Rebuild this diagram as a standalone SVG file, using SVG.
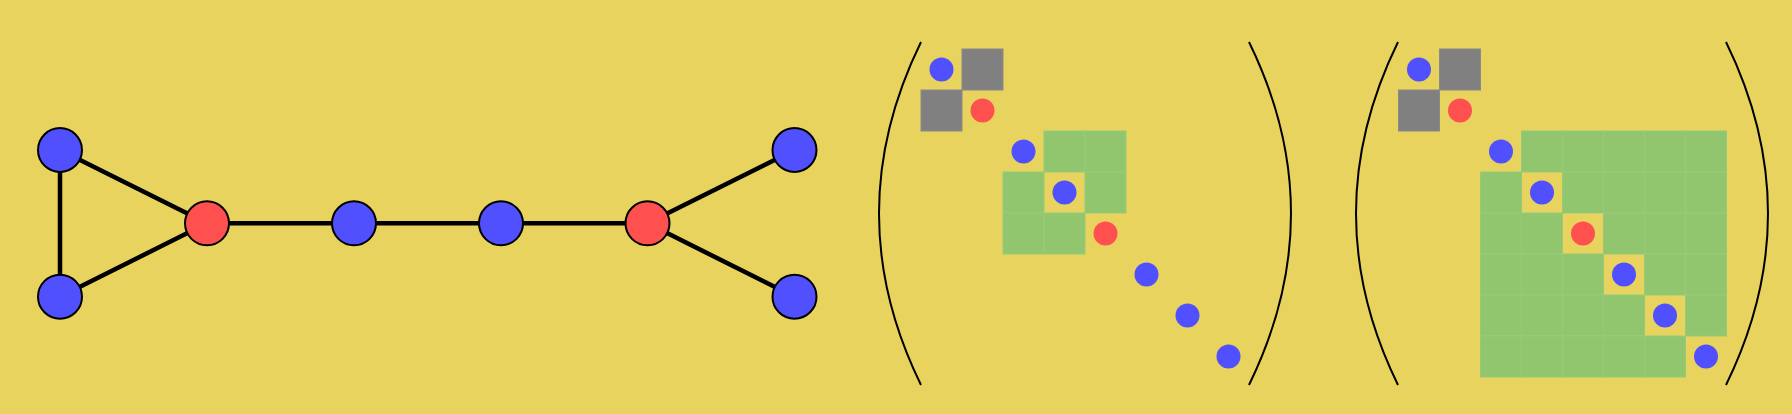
<svg xmlns="http://www.w3.org/2000/svg" width="1792" height="414" viewBox="0 0 1792 414">
<style>
.edge{stroke:#000;stroke-width:4.5;fill:none}
.node{stroke:#000;stroke-width:2}
.b{fill:#5050FF}
.r{fill:#FF5050}
.gray{fill:#808080;stroke:#8a8a8a;stroke-width:1}
.green{fill:#91C66F;stroke:#97cb78;stroke-width:1}
.paren{stroke:#000;stroke-width:2;fill:none}
</style>
<rect x="0" y="0" width="1792" height="414" fill="#E7D35E"/>
<g id="connectors">
<line class="edge" x1="60" y1="150" x2="60" y2="296.7"/>
<line class="edge" x1="60" y1="150" x2="207" y2="223.3"/>
<line class="edge" x1="60" y1="296.7" x2="207" y2="223.3"/>
<line class="edge" x1="207" y1="223.3" x2="647.5" y2="223.3"/>
<line class="edge" x1="647.5" y1="223.3" x2="794.5" y2="150"/>
<line class="edge" x1="647.5" y1="223.3" x2="794.5" y2="296.7"/>
</g>
<g id="n1"><circle class="node b" cx="60" cy="150" r="22"/></g>
<g id="n2"><circle class="node b" cx="60" cy="296.7" r="22"/></g>
<g id="n3"><circle class="node r" cx="207" cy="223.3" r="22"/></g>
<g id="n4"><circle class="node b" cx="354" cy="223.3" r="22"/></g>
<g id="n5"><circle class="node b" cx="501" cy="223.3" r="22"/></g>
<g id="n6"><circle class="node r" cx="647.5" cy="223.3" r="22"/></g>
<g id="n7"><circle class="node b" cx="794.5" cy="150" r="22"/></g>
<g id="n8"><circle class="node b" cx="794.5" cy="296.7" r="22"/></g>

<g id="matrix1">
<path class="paren" d="M921 42 Q837 213.5 921 385"/>
<path class="paren" d="M1249 42 Q1333 213.5 1249 385"/>
<g transform="translate(921 49)">
<rect class="gray" x="41" y="0" width="41" height="41"/>
<rect class="gray" x="0" y="41" width="41" height="41"/>
<rect class="green" x="123" y="82" width="41" height="41"/>
<rect class="green" x="164" y="82" width="41" height="41"/>
<rect class="green" x="82" y="123" width="41" height="41"/>
<rect class="green" x="164" y="123" width="41" height="41"/>
<rect class="green" x="82" y="164" width="41" height="41"/>
<rect class="green" x="123" y="164" width="41" height="41"/>
<circle class="b" cx="20.5" cy="20.5" r="12"/>
<circle class="r" cx="61.5" cy="61.5" r="12"/>
<circle class="b" cx="102.5" cy="102.5" r="12"/>
<circle class="b" cx="143.5" cy="143.5" r="12"/>
<circle class="r" cx="184.5" cy="184.5" r="12"/>
<circle class="b" cx="225.5" cy="225.5" r="12"/>
<circle class="b" cx="266.5" cy="266.5" r="12"/>
<circle class="b" cx="307.5" cy="307.5" r="12"/>
</g>
</g>

<g id="matrix2">
<path class="paren" d="M1398 42 Q1314 213.5 1398 385"/>
<path class="paren" d="M1726 42 Q1810 213.5 1726 385"/>
<g transform="translate(1398.5 49)">
<rect class="gray" x="41" y="0" width="41" height="41"/>
<rect class="gray" x="0" y="41" width="41" height="41"/>
<rect class="green" x="123" y="82" width="41" height="41"/>
<rect class="green" x="164" y="82" width="41" height="41"/>
<rect class="green" x="205" y="82" width="41" height="41"/>
<rect class="green" x="246" y="82" width="41" height="41"/>
<rect class="green" x="287" y="82" width="41" height="41"/>
<rect class="green" x="82" y="123" width="41" height="41"/>
<rect class="green" x="164" y="123" width="41" height="41"/>
<rect class="green" x="205" y="123" width="41" height="41"/>
<rect class="green" x="246" y="123" width="41" height="41"/>
<rect class="green" x="287" y="123" width="41" height="41"/>
<rect class="green" x="82" y="164" width="41" height="41"/>
<rect class="green" x="123" y="164" width="41" height="41"/>
<rect class="green" x="205" y="164" width="41" height="41"/>
<rect class="green" x="246" y="164" width="41" height="41"/>
<rect class="green" x="287" y="164" width="41" height="41"/>
<rect class="green" x="82" y="205" width="41" height="41"/>
<rect class="green" x="123" y="205" width="41" height="41"/>
<rect class="green" x="164" y="205" width="41" height="41"/>
<rect class="green" x="246" y="205" width="41" height="41"/>
<rect class="green" x="287" y="205" width="41" height="41"/>
<rect class="green" x="82" y="246" width="41" height="41"/>
<rect class="green" x="123" y="246" width="41" height="41"/>
<rect class="green" x="164" y="246" width="41" height="41"/>
<rect class="green" x="205" y="246" width="41" height="41"/>
<rect class="green" x="287" y="246" width="41" height="41"/>
<rect class="green" x="82" y="287" width="41" height="41"/>
<rect class="green" x="123" y="287" width="41" height="41"/>
<rect class="green" x="164" y="287" width="41" height="41"/>
<rect class="green" x="205" y="287" width="41" height="41"/>
<rect class="green" x="246" y="287" width="41" height="41"/>
<circle class="b" cx="20.5" cy="20.5" r="12"/>
<circle class="r" cx="61.5" cy="61.5" r="12"/>
<circle class="b" cx="102.5" cy="102.5" r="12"/>
<circle class="b" cx="143.5" cy="143.5" r="12"/>
<circle class="r" cx="184.5" cy="184.5" r="12"/>
<circle class="b" cx="225.5" cy="225.5" r="12"/>
<circle class="b" cx="266.5" cy="266.5" r="12"/>
<circle class="b" cx="307.5" cy="307.5" r="12"/>
</g>
</g>
</svg>
